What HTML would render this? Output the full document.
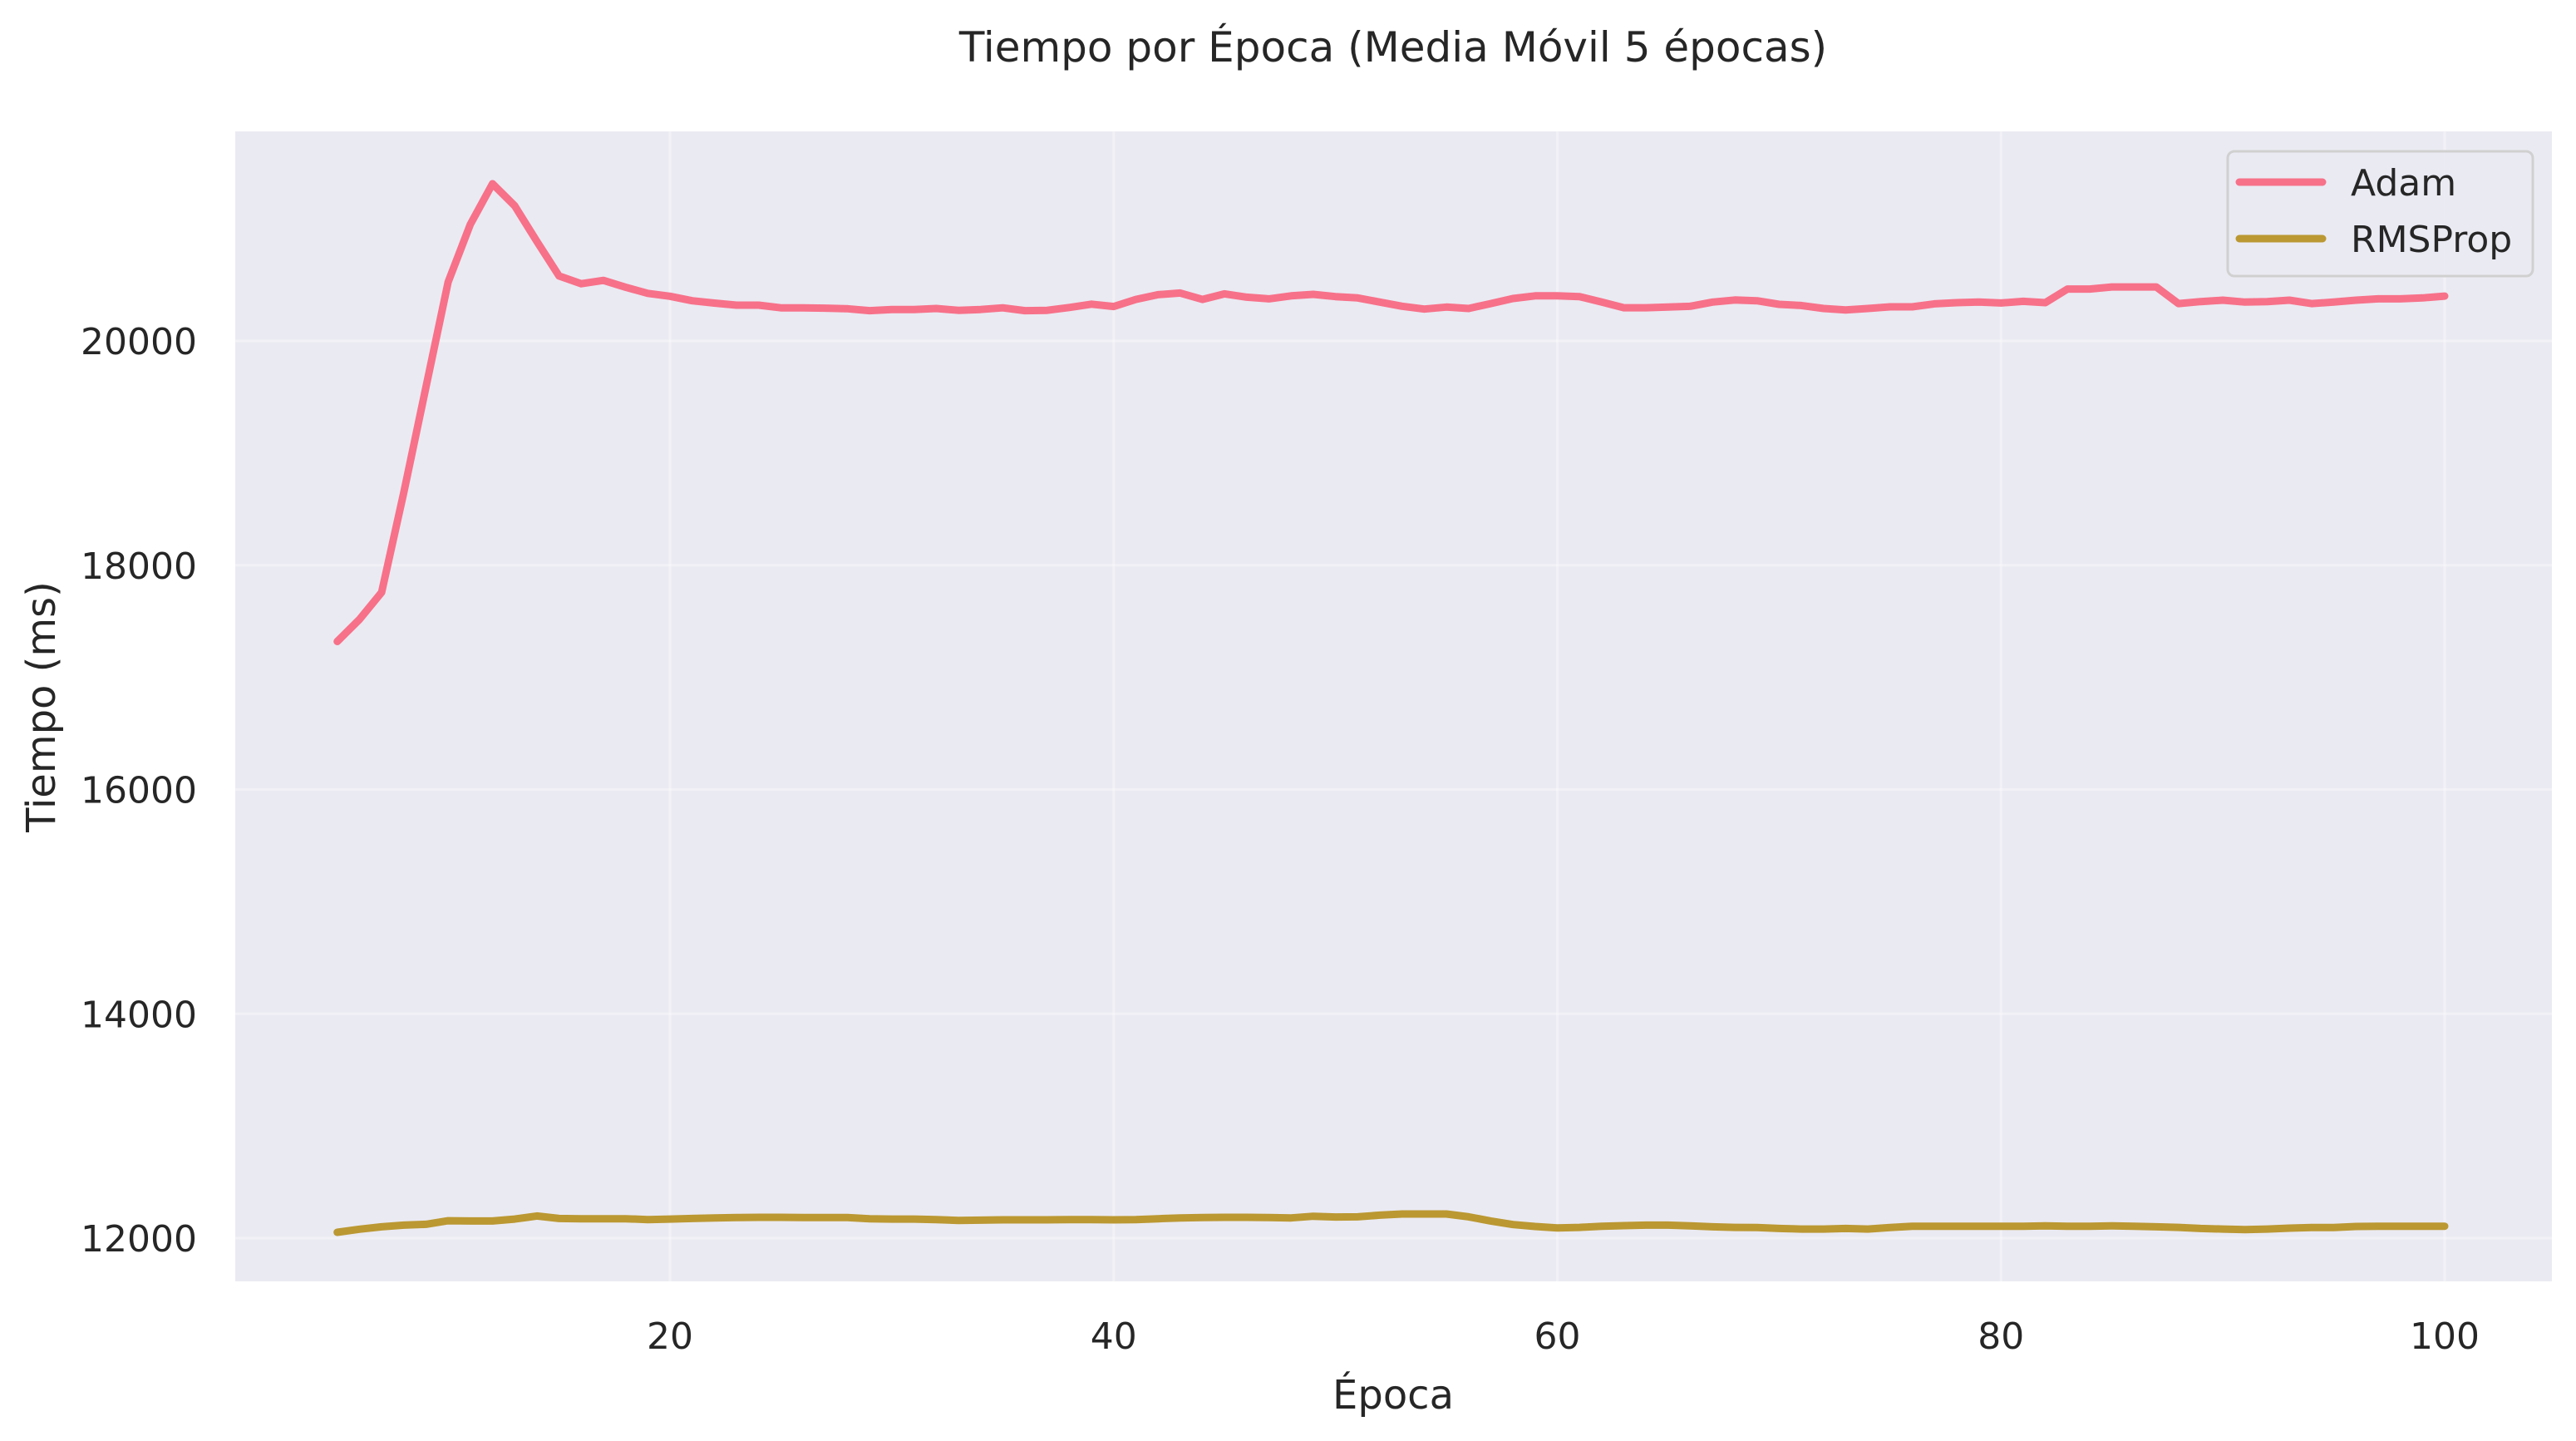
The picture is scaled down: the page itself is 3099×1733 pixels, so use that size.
<!DOCTYPE html>
<html><head><meta charset="utf-8"><style>
html,body{margin:0;padding:0;background:#fff;}
svg{display:block;font-family:"DejaVu Sans","Liberation Sans",sans-serif;}
</style></head><body>
<svg id="chart" width="3099" height="1733" viewBox="0 0 3099 1733" xmlns="http://www.w3.org/2000/svg">
<rect x="0" y="0" width="3099" height="1733" fill="#ffffff"/>
<rect x="283" y="158" width="2787" height="1383" fill="#eaeaf2"/>
<g id="grid"></g>
<g id="series"></g>
<g id="ticks"></g>
<text x="1676" y="74" font-size="50" text-anchor="middle" fill="#262626">Tiempo por Época (Media Móvil 5 épocas)</text>
<text x="1676" y="1694" font-size="48" text-anchor="middle" fill="#262626">Época</text>
<text transform="translate(66,850) rotate(-90)" font-size="48" text-anchor="middle" fill="#262626">Tiempo (ms)</text>
<g>
<rect x="2680" y="182" width="367" height="150" rx="8" fill="#eaeaf2" fill-opacity="0.8" stroke="#d0d0d0" stroke-width="3"/>
<line x1="2694" y1="219" x2="2794" y2="219" stroke="#f77189" stroke-width="9" stroke-linecap="round"/>
<text x="2828" y="235" font-size="44" fill="#262626">Adam</text>
<line x1="2694" y1="287" x2="2794" y2="287" stroke="#bb9832" stroke-width="9" stroke-linecap="round"/>
<text x="2828" y="303" font-size="44" fill="#262626">RMSProp</text>
</g>
</svg>
<script>
const epochs = [];
for (let e = 5; e <= 100; e++) epochs.push(e);
const adamValues = [17320,17516,17758,18650,19587,20524,21039,21401,21205,20887,20579,20510,20540,20479,20424,20398,20358,20337,20319,20319,20295,20295,20292,20287,20270,20280,20280,20289,20273,20280,20295,20270,20273,20298,20328,20307,20370,20412,20427,20370,20420,20390,20375,20402,20415,20395,20383,20346,20309,20284,20302,20289,20333,20378,20402,20402,20395,20346,20296,20296,20302,20309,20346,20365,20358,20326,20316,20289,20276,20289,20304,20304,20331,20341,20346,20338,20353,20341,20463,20463,20481,20481,20481,20333,20351,20363,20346,20351,20363,20333,20346,20363,20375,20375,20383,20400];
const rmspropValues = [12052,12079,12101,12116,12123,12155,12153,12153,12170,12197,12175,12173,12173,12173,12165,12170,12175,12180,12183,12185,12185,12183,12183,12183,12173,12170,12170,12165,12158,12160,12163,12163,12163,12165,12165,12163,12165,12173,12180,12183,12185,12185,12183,12180,12195,12188,12190,12205,12215,12215,12215,12190,12153,12121,12104,12091,12096,12106,12111,12116,12116,12109,12101,12096,12094,12086,12081,12081,12086,12081,12094,12106,12106,12106,12106,12106,12106,12109,12106,12106,12109,12106,12101,12096,12086,12081,12076,12081,12089,12094,12094,12104,12106,12106,12106,12106];
const xTicks = [20,40,60,80,100];
const yTicks = [12000,14000,16000,18000,20000];
const xTickLabels = ["20","40","60","80","100"];
const yTickLabels = ["12000","14000","16000","18000","20000"];

const NS = "http://www.w3.org/2000/svg";
const PL = 283, PR = 3070, PT = 158, PB = 1541;
function xs(e){ return 806 + (e - 20) * (2941 - 806) / 80; }
function ys(v){ return 410 + (20000 - v) * (1489 - 410) / 8000; }

const grid = document.getElementById('grid');
const ticks = document.getElementById('ticks');
xTicks.forEach((t,i)=>{
  const l = document.createElementNS(NS,'line');
  l.setAttribute('x1',xs(t)); l.setAttribute('x2',xs(t));
  l.setAttribute('y1',PT); l.setAttribute('y2',PB);
  l.setAttribute('stroke','#ffffff'); l.setAttribute('stroke-width','3'); l.setAttribute('stroke-opacity','0.35');
  
  
  grid.appendChild(l);
  const tx = document.createElementNS(NS,'text');
  tx.setAttribute('x',xs(t)); tx.setAttribute('y',1622);
  tx.setAttribute('font-size','44'); tx.setAttribute('text-anchor','middle'); tx.setAttribute('fill','#262626');
  tx.textContent = xTickLabels[i];
  
  
  ticks.appendChild(tx);
});
yTicks.forEach((t,i)=>{
  const l = document.createElementNS(NS,'line');
  l.setAttribute('x1',PL); l.setAttribute('x2',PR);
  l.setAttribute('y1',ys(t)); l.setAttribute('y2',ys(t));
  l.setAttribute('stroke','#ffffff'); l.setAttribute('stroke-width','3'); l.setAttribute('stroke-opacity','0.35');
  
  
  grid.appendChild(l);
  const tx = document.createElementNS(NS,'text');
  tx.setAttribute('x',237); tx.setAttribute('y',ys(t)+16);
  tx.setAttribute('font-size','44'); tx.setAttribute('text-anchor','end'); tx.setAttribute('fill','#262626');
  tx.textContent = yTickLabels[i];
  
  
  ticks.appendChild(tx);
});

const series = document.getElementById('series');
function drawLine(vals,color,name){
  const p = document.createElementNS(NS,'path');
  let d = '';
  vals.forEach((v,i)=>{ d += (i?'L':'M') + xs(epochs[i]).toFixed(1) + ',' + ys(v).toFixed(1); });
  p.setAttribute('d',d);
  p.setAttribute('fill','none'); p.setAttribute('stroke',color);
  p.setAttribute('stroke-width','9'); p.setAttribute('stroke-linecap','round'); p.setAttribute('stroke-linejoin','round');
  
  
  series.appendChild(p);
}
drawLine(adamValues,'#f77189','adam-line');
drawLine(rmspropValues,'#bb9832','rmsprop-line');
</script>
</body></html>
